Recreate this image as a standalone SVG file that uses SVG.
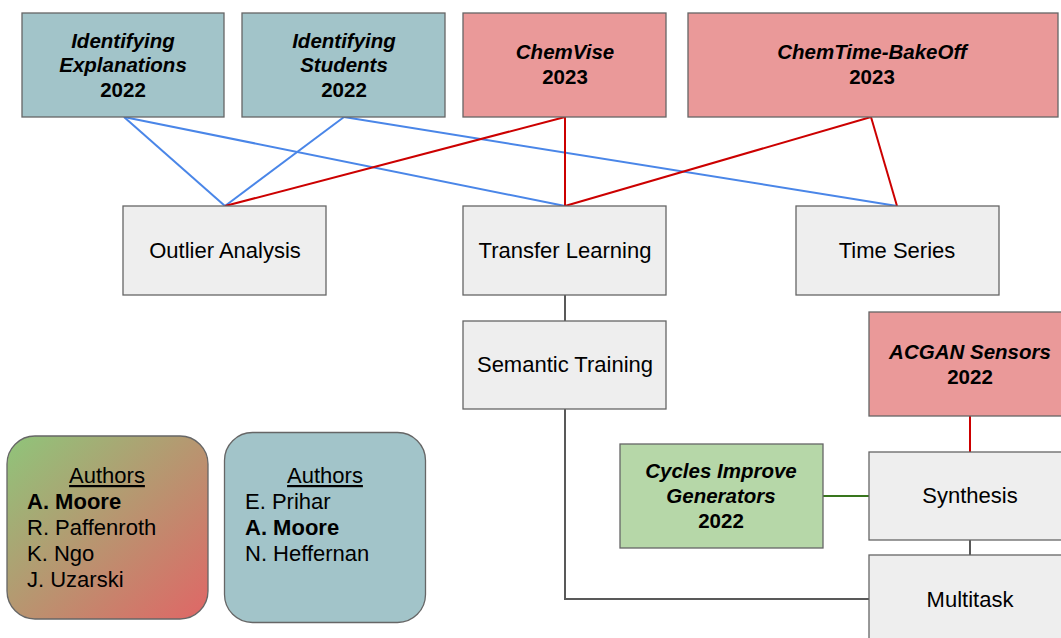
<svg xmlns="http://www.w3.org/2000/svg" width="1061" height="638" viewBox="0 0 1061 638">
<style>
.box{stroke:#666666;stroke-width:1.3}
.teal{fill:#a2c4c9}
.red{fill:#ea9999}
.grey{fill:#eeeeee}
.green{fill:#b6d7a8}
.t{font-family:"Liberation Sans",Arial,sans-serif;fill:#000;text-anchor:middle}
.bi{font-size:20.5px;font-weight:bold;font-style:italic}
.b{font-size:20.5px;font-weight:bold}
.r{font-size:22px}
.a{font-family:"Liberation Sans",Arial,sans-serif;font-size:22px;fill:#000}
.blue{stroke:#4a86e8;stroke-width:2;fill:none}
.redl{stroke:#cc0000;stroke-width:2;fill:none}
.greyl{stroke:#595959;stroke-width:2;fill:none}
.greenl{stroke:#38761d;stroke-width:2;fill:none}
</style>
<defs>
<linearGradient id="grad" x1="0" y1="0" x2="1" y2="1">
<stop offset="0" stop-color="#8fc57a"/>
<stop offset="1" stop-color="#e06666"/>
</linearGradient>
</defs>
<rect width="1061" height="638" fill="#ffffff"/>
<g id="connectors">
<line class="blue" x1="124" y1="117" x2="225" y2="206"/>
<line class="blue" x1="124" y1="117" x2="565" y2="206"/>
<line class="blue" x1="344" y1="117" x2="225" y2="206"/>
<line class="blue" x1="344" y1="117" x2="897" y2="206"/>
<line class="redl" x1="565" y1="117" x2="225" y2="206"/>
<line class="redl" x1="565" y1="117" x2="565" y2="206"/>
<line class="redl" x1="871" y1="117" x2="565" y2="206"/>
<line class="redl" x1="871" y1="117" x2="897" y2="206"/>
<line class="greyl" x1="565" y1="295" x2="565" y2="321"/>
<polyline class="greyl" points="565,409 565,599 869,599"/>
<line class="greyl" x1="970" y1="540" x2="970" y2="555"/>
<line class="redl" x1="970" y1="416" x2="970" y2="452"/>
<line class="greenl" x1="823" y1="496" x2="869" y2="496"/>
</g>
<g id="identifying-explanations">
<rect class="box teal" x="22" y="13" width="202" height="104"/>
<text class="t bi" x="123" y="48">Identifying</text>
<text class="t bi" x="123" y="72">Explanations</text>
<text class="t b" x="123" y="97">2022</text>
</g>
<g id="identifying-students">
<rect class="box teal" x="242" y="13" width="203" height="104"/>
<text class="t bi" x="344" y="48">Identifying</text>
<text class="t bi" x="344" y="72">Students</text>
<text class="t b" x="344" y="97">2022</text>
</g>
<g id="chemvise">
<rect class="box red" x="463" y="13" width="203" height="104"/>
<text class="t bi" x="565" y="59">ChemVise</text>
<text class="t b" x="565" y="84">2023</text>
</g>
<g id="chemtime">
<rect class="box red" x="688" y="13" width="370" height="104"/>
<text class="t bi" x="872" y="59">ChemTime-BakeOff</text>
<text class="t b" x="872" y="84">2023</text>
</g>
<g id="outlier-analysis">
<rect class="box grey" x="123" y="206" width="203" height="89"/>
<text class="t r" x="225" y="258">Outlier Analysis</text>
</g>
<g id="transfer-learning">
<rect class="box grey" x="463" y="206" width="203" height="89"/>
<text class="t r" x="565" y="258">Transfer Learning</text>
</g>
<g id="time-series">
<rect class="box grey" x="796" y="206" width="203" height="89"/>
<text class="t r" x="897" y="258">Time Series</text>
</g>
<g id="semantic-training">
<rect class="box grey" x="463" y="321" width="203" height="88"/>
<text class="t r" x="565" y="372">Semantic Training</text>
</g>
<g id="acgan-sensors">
<rect class="box red" x="869" y="312" width="203" height="104"/>
<text class="t bi" x="970" y="359">ACGAN Sensors</text>
<text class="t b" x="970" y="384">2022</text>
</g>
<g id="cycles-improve-generators">
<rect class="box green" x="620" y="444" width="203" height="104"/>
<text class="t bi" x="721" y="478">Cycles Improve</text>
<text class="t bi" x="721" y="503">Generators</text>
<text class="t b" x="721" y="528">2022</text>
</g>
<g id="synthesis">
<rect class="box grey" x="869" y="452" width="203" height="88"/>
<text class="t r" x="970" y="503">Synthesis</text>
</g>
<g id="multitask">
<rect class="box grey" x="869" y="555" width="203" height="100"/>
<text class="t r" x="970" y="607">Multitask</text>
</g>
<g id="authors-1">
<rect x="7" y="436" width="201" height="183" rx="28" ry="28" fill="url(#grad)" stroke="#666666" stroke-width="1.3"/>
<text class="a" x="107" y="483" text-anchor="middle" text-decoration="underline">Authors</text>
<text class="a" x="27" y="509" font-weight="bold">A. Moore</text>
<text class="a" x="27" y="535">R. Paffenroth</text>
<text class="a" x="27" y="561">K. Ngo</text>
<text class="a" x="27" y="587">J. Uzarski</text>
</g>
<g id="authors-2">
<rect x="224.5" y="432.5" width="201" height="190" rx="28" ry="28" fill="#a2c4c9" stroke="#666666" stroke-width="1.3"/>
<text class="a" x="325" y="483" text-anchor="middle" text-decoration="underline">Authors</text>
<text class="a" x="245" y="509">E. Prihar</text>
<text class="a" x="245" y="535" font-weight="bold">A. Moore</text>
<text class="a" x="245" y="561">N. Heffernan</text>
</g>
</svg>
